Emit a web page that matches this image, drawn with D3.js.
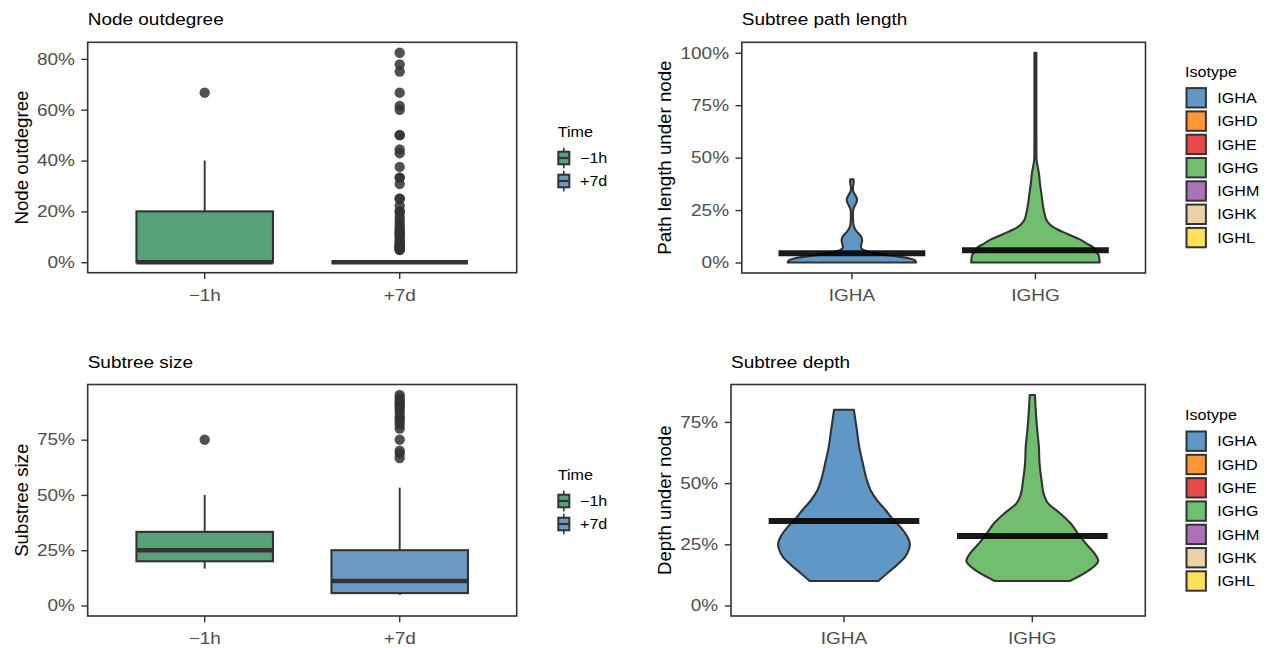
<!DOCTYPE html>
<html>
<head>
<meta charset="utf-8">
<script src="https://cdn.jsdelivr.net/npm/d3@7"></script>
<style>
  body { margin: 0; background: #fff; }
  text { font-family: "Liberation Sans", Arial, Helvetica, sans-serif; }
</style>
</head>
<body>
<script>
// ---- data (percent values) ----
var timeGroups = ["\u22121h", "+7d"]
var timeFills = ["#58a278", "#6b9bc3"]
var isotypes = ["IGHA", "IGHD", "IGHE", "IGHG", "IGHM", "IGHK", "IGHL"]
var isotypeFills = ["#5f98c6", "#ff9833", "#e94849", "#71bf6e", "#ad71b5", "#ecd2a8", "#ffe159"]
var violinGroups = ["IGHA", "IGHG"]
var violinFills = ["#5f98c6", "#71bf6e"]

// box stats: [lower whisker, q1, median, q3, upper whisker]
var outdegreeBoxes = [[0, 0, 0, 20, 40], [0, 0, 0, 0, 0]]
var outdegreeOutliers = [
  [66.7],
  [82.4, 77.8, 75, 66.7, 61.5, 60, 50, 50, 44.4, 42.9, 37.5, 33.3, 33.3, 30.8, 25, 25,
   22.2, 20, 20, 18.2, 16.7, 15.4, 14.3, 13.3, 12.5, 11.8, 11.1, 10.5, 10, 9.1, 8.3,
   7.7, 7.1, 6.7, 6.3, 5.9, 5.6, 5.3, 5, 4.8]
]
var sizeBoxes = [[16.7, 20, 25, 33.3, 50], [4.8, 5.6, 11.1, 25, 53.3]]
var sizeOutliers = [
  [75],
  [95.2, 94.1, 92.9, 91.7, 90.9, 90, 88.9, 87.5, 85.7, 84.6, 83.3, 81.8, 80, 75, 70, 68.8, 66.7]
]

// violin outlines: [value %, relative half width]
var pathIGHA = [[0, 1], [1, 0.98], [1.9, 0.9], [2.7, 0.75], [3.1, 0.65], [4, 0.45], [5, 0.28],
  [6, 0.18], [6.6, 0.15], [7.5, 0.14], [9, 0.15], [10.5, 0.16], [12, 0.15], [13.5, 0.115],
  [15, 0.07], [16.5, 0.04], [18, 0.025], [20, 0.018], [23, 0.016], [25, 0.02], [27, 0.045],
  [28.5, 0.07], [30, 0.08], [31.5, 0.065], [33, 0.035], [34.6, 0.016], [36, 0.016],
  [37.5, 0.025], [38.5, 0.028], [39.7, 0.025]]
var pathIGHG = [[0, 1], [2, 0.995], [3.8, 0.98], [5, 0.95], [6.5, 0.92], [7.7, 0.88], [9, 0.8],
  [10.9, 0.7], [12.5, 0.58], [14, 0.47], [15.5, 0.36], [17.2, 0.26], [19, 0.2], [20.4, 0.17],
  [23, 0.145], [26.7, 0.12], [30, 0.105], [34.6, 0.085], [38, 0.07], [42.5, 0.055], [45, 0.04],
  [47, 0.028], [50, 0.016], [60, 0.015], [80, 0.015], [100, 0.015]]
var pathMedians = [4.4, 5.8]

var depthIGHA = [[10, 0.52], [13.3, 0.66], [16.7, 0.81], [20, 0.93], [22.5, 0.98], [25, 1],
  [28.2, 0.96], [31.6, 0.87], [35, 0.75], [39, 0.63], [43, 0.5], [47.3, 0.4], [51.4, 0.345],
  [58.2, 0.285], [65, 0.23], [71.8, 0.195], [77.3, 0.165], [80, 0.15]]
var depthIGHG = [[10, 0.57], [13.3, 0.8], [16, 0.94], [18.3, 1], [21.4, 0.94], [25.4, 0.81],
  [29.5, 0.69], [33.6, 0.58], [37.7, 0.42], [41.7, 0.24], [45, 0.18], [51.2, 0.14], [58, 0.11],
  [64.8, 0.1], [71.6, 0.075], [78.4, 0.055], [86, 0.04]]
var depthMedians = [34.5, 28.4]

// ---- drawing ----
var W = 1266, H = 648
var SX = 1.15   // horizontal stretch of the horizontal texts in the original
var INK = "#333333"

var svg = d3.select("body").append("svg").attr("width", W).attr("height", H)

function label(parent, x, y, str, size, fill) {
  return parent.append("text")
    .attr("transform", "translate(" + x + "," + y + ") scale(" + SX + ",1)")
    .attr("font-size", size)
    .attr("fill", fill || "#000")
    .text(str)
}

function makePanel(p) {
  var g = svg.append("g")
  var x = d3.scaleBand().domain(p.cats).range([p.left, p.right])
    .paddingInner(0).paddingOuter(0.1)
  var pad = p.maxValue * 0.05
  var y = d3.scaleLinear().domain([-pad, p.maxValue + pad]).range([p.bottom, p.top])

  var ya = g.append("g").attr("transform", "translate(" + p.left + ",0)")
    .call(d3.axisLeft(y).tickValues(p.ticks).tickSize(6.3).tickFormat(function(d) { return d + "%" }))
  ya.attr("font-size", null).attr("font-family", null)
  ya.select(".domain").remove()
  ya.selectAll("line").attr("stroke", INK).attr("stroke-width", 1.4)
  ya.selectAll("text").attr("x", -12.8 / SX).attr("transform", "scale(" + SX + ",1)")
    .attr("font-size", 16.5).attr("fill", "#4d4d4d")

  var xa = g.append("g").attr("transform", "translate(0," + p.bottom + ")")
    .call(d3.axisBottom(x).tickSize(6.3).tickPadding(10.3))
  xa.attr("font-size", null).attr("font-family", null)
  xa.select(".domain").remove()
  xa.selectAll("line").attr("stroke", INK).attr("stroke-width", 1.4)
  xa.selectAll("text").attr("transform", "scale(" + SX + ",1)")
    .attr("font-size", 16.5).attr("fill", "#4d4d4d")

  label(g, p.left, p.titleY, p.title, 16.5)
  g.append("text")
    .attr("transform", "translate(" + p.ytitleX + "," + ((p.top + p.bottom) / 2) + ") rotate(-90)")
    .attr("text-anchor", "middle").attr("font-size", 18.7).text(p.ytitle)

  var marks = g.append("g")
  g.append("rect")
    .attr("x", p.left).attr("y", p.top)
    .attr("width", p.right - p.left).attr("height", p.bottom - p.top)
    .attr("fill", "none").attr("stroke", INK).attr("stroke-width", 1.6)
  return { g: marks, x: x, y: y }
}

function drawBoxes(panel, boxes, outliers) {
  var x = panel.x, y = panel.y, bw = x.bandwidth()
  boxes.forEach(function(b, i) {
    var cx = x(timeGroups[i]) + bw / 2
    var half = bw * 0.35
    var g = panel.g.append("g")
    g.append("line").attr("x1", cx).attr("x2", cx).attr("y1", y(b[3])).attr("y2", y(b[4]))
      .attr("stroke", INK).attr("stroke-width", 1.9)
    g.append("line").attr("x1", cx).attr("x2", cx).attr("y1", y(b[0])).attr("y2", y(b[1]))
      .attr("stroke", INK).attr("stroke-width", 1.9)
    g.append("rect").attr("x", cx - half).attr("width", half * 2)
      .attr("y", y(b[3])).attr("height", y(b[1]) - y(b[3]))
      .attr("fill", timeFills[i]).attr("stroke", INK).attr("stroke-width", 2.1)
    g.append("line").attr("x1", cx - half).attr("x2", cx + half).attr("y1", y(b[2])).attr("y2", y(b[2]))
      .attr("stroke", INK).attr("stroke-width", 4.6)
    g.selectAll("circle").data(outliers[i]).enter().append("circle")
      .attr("cx", cx).attr("cy", function(d) { return y(d) }).attr("r", 5.2)
      .attr("fill", INK).attr("fill-opacity", 0.85)
  })
}

function drawViolins(panel, outlines, medians) {
  var x = panel.x, y = panel.y, bw = x.bandwidth()
  outlines.forEach(function(o, i) {
    var cx = x(violinGroups[i]) + bw / 2
    var half = bw * 0.35
    var area = d3.area().curve(d3.curveMonotoneY)
      .y(function(d) { return y(d[0]) })
      .x0(function(d) { return cx - d[1] * half })
      .x1(function(d) { return cx + d[1] * half })
    panel.g.append("path").attr("d", area(o))
      .attr("fill", violinFills[i]).attr("stroke", INK).attr("stroke-width", 2.1)
      .attr("stroke-linejoin", "round")
  })
  medians.forEach(function(m, i) {
    var cx = x(violinGroups[i]) + bw / 2
    panel.g.append("line").attr("x1", cx - bw * 0.4).attr("x2", cx + bw * 0.4)
      .attr("y1", y(m)).attr("y2", y(m))
      .attr("stroke", "#000").attr("stroke-opacity", 0.9).attr("stroke-width", 6)
  })
}

function timeLegend(oy) {
  var g = svg.append("g")
  label(g, 557.7, 136.7 + oy, "Time", 14)
  timeGroups.forEach(function(t, i) {
    var cy = 158 + 23 * i + oy
    g.append("line").attr("x1", 563.8).attr("x2", 563.8).attr("y1", cy - 10.3).attr("y2", cy + 10.3)
      .attr("stroke", INK).attr("stroke-width", 1.6)
    g.append("rect").attr("x", 558.3).attr("y", cy - 6.3).attr("width", 11).attr("height", 12.6)
      .attr("fill", timeFills[i]).attr("stroke", INK).attr("stroke-width", 2)
    g.append("line").attr("x1", 558.3).attr("x2", 569.3).attr("y1", cy).attr("y2", cy)
      .attr("stroke", INK).attr("stroke-width", 2.2)
    label(g, 580, cy + 4.8, t, 14)
  })
}

function isotypeLegend(oy) {
  var g = svg.append("g")
  label(g, 1185, 76.7 + oy, "Isotype", 14)
  isotypes.forEach(function(t, i) {
    var top = 88.1 + 23.3 * i + oy
    g.append("rect").attr("x", 1186.5).attr("y", top).attr("width", 19.4).attr("height", 19.4)
      .attr("fill", isotypeFills[i]).attr("stroke", INK).attr("stroke-width", 2)
    label(g, 1217.3, top + 14.8, t, 14)
  })
}

function maxOf(boxes, outliers) {
  return d3.max([d3.max(boxes, function(b) { return b[4] }),
                 d3.max(outliers, function(o) { return d3.max(o) })])
}
function maxOutline(outlines) {
  return d3.max(outlines, function(o) { return d3.max(o, function(d) { return d[0] }) })
}

var pTL = makePanel({ left: 87.7, right: 516.7, top: 42.3, bottom: 272.7, cats: timeGroups,
  maxValue: maxOf(outdegreeBoxes, outdegreeOutliers), ticks: [0, 20, 40, 60, 80],
  title: "Node outdegree", titleY: 25, ytitle: "Node outdegree", ytitleX: 27.7 })
drawBoxes(pTL, outdegreeBoxes, outdegreeOutliers)

var pTR = makePanel({ left: 741.8, right: 1145.5, top: 42.3, bottom: 273, cats: violinGroups,
  maxValue: maxOutline([pathIGHA, pathIGHG]), ticks: [0, 25, 50, 75, 100],
  title: "Subtree path length", titleY: 25, ytitle: "Path length under node", ytitleX: 671 })
drawViolins(pTR, [pathIGHA, pathIGHG], pathMedians)

var pBL = makePanel({ left: 87.7, right: 516.7, top: 384.5, bottom: 616, cats: timeGroups,
  maxValue: maxOf(sizeBoxes, sizeOutliers), ticks: [0, 25, 50, 75],
  title: "Subtree size", titleY: 368.3, ytitle: "Substree size", ytitleX: 27.7 })
drawBoxes(pBL, sizeBoxes, sizeOutliers)

var pBR = makePanel({ left: 731, right: 1145.3, top: 384.5, bottom: 616, cats: violinGroups,
  maxValue: maxOutline([depthIGHA, depthIGHG]), ticks: [0, 25, 50, 75],
  title: "Subtree depth", titleY: 368.3, ytitle: "Depth under node", ytitleX: 671 })
drawViolins(pBR, [depthIGHA, depthIGHG], depthMedians)

timeLegend(0)
timeLegend(343)
isotypeLegend(0)
isotypeLegend(343.4)
</script>
</body>
</html>
